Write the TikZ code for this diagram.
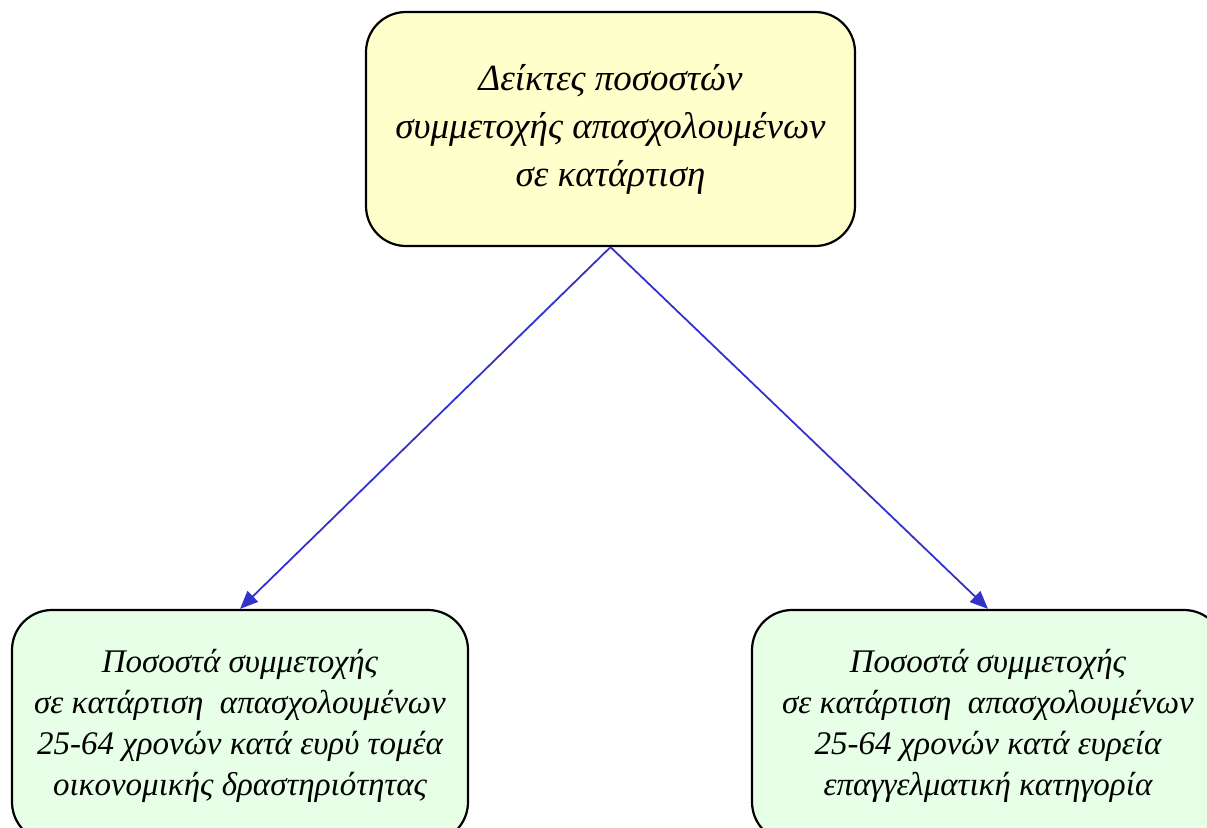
\documentclass[tikz,border=0pt]{standalone}
\usepackage{fontspec}
\setmainfont{Liberation Serif}
\usepackage{xcolor}
\usepackage{tikz}
\usetikzlibrary{arrows.meta,positioning}
\definecolor{pale}{HTML}{FFFFCC}
\definecolor{mint}{HTML}{E6FFE6}
\definecolor{ink}{HTML}{3333CC}
\tikzset{
  box/.style={rectangle, rounded corners=40pt, draw=black, line width=2.2pt,
              align=center, inner sep=6pt},
  headbox/.style={box, fill=pale, minimum width=489pt, minimum height=234pt,
              font=\fontsize{37}{48}\selectfont\itshape},
  leafbox/.style={box, fill=mint, minimum width=456pt, minimum height=232pt,
              font=\fontsize{33}{41}\selectfont\itshape},
  flow/.style={-{Triangle[length=18pt, width=15pt]}, draw=ink, line width=1.8pt}
}
\begin{document}
\begin{tikzpicture}[x=1pt, y=-1pt]
 \useasboundingbox (0,0) rectangle (1207,827);
 \clip (0,0) rectangle (1207,827);
 \node[headbox] (top) at (610.5,129) {Δείκτες ποσοστών\\ συμμετοχής απασχολουμένων\\ σε κατάρτιση};
 \node[leafbox] (left) at (240,726) {Ποσοστά συμμετοχής\\ σε κατάρτιση\ \ απασχολουμένων\\ 25-64 χρονών κατά ευρύ τομέα\\ οικονομικής δραστηριότητας};
 \node[leafbox, minimum width=472pt] (right) at (988,726) {Ποσοστά συμμετοχής\\ σε κατάρτιση\ \ απασχολουμένων\\ 25-64 χρονών κατά ευρεία\\ επαγγελματική\ κατηγορία};
 \draw[flow] (top.south) -- (left.north);
 \draw[flow] (top.south) -- (right.north);
\end{tikzpicture}
\end{document}
